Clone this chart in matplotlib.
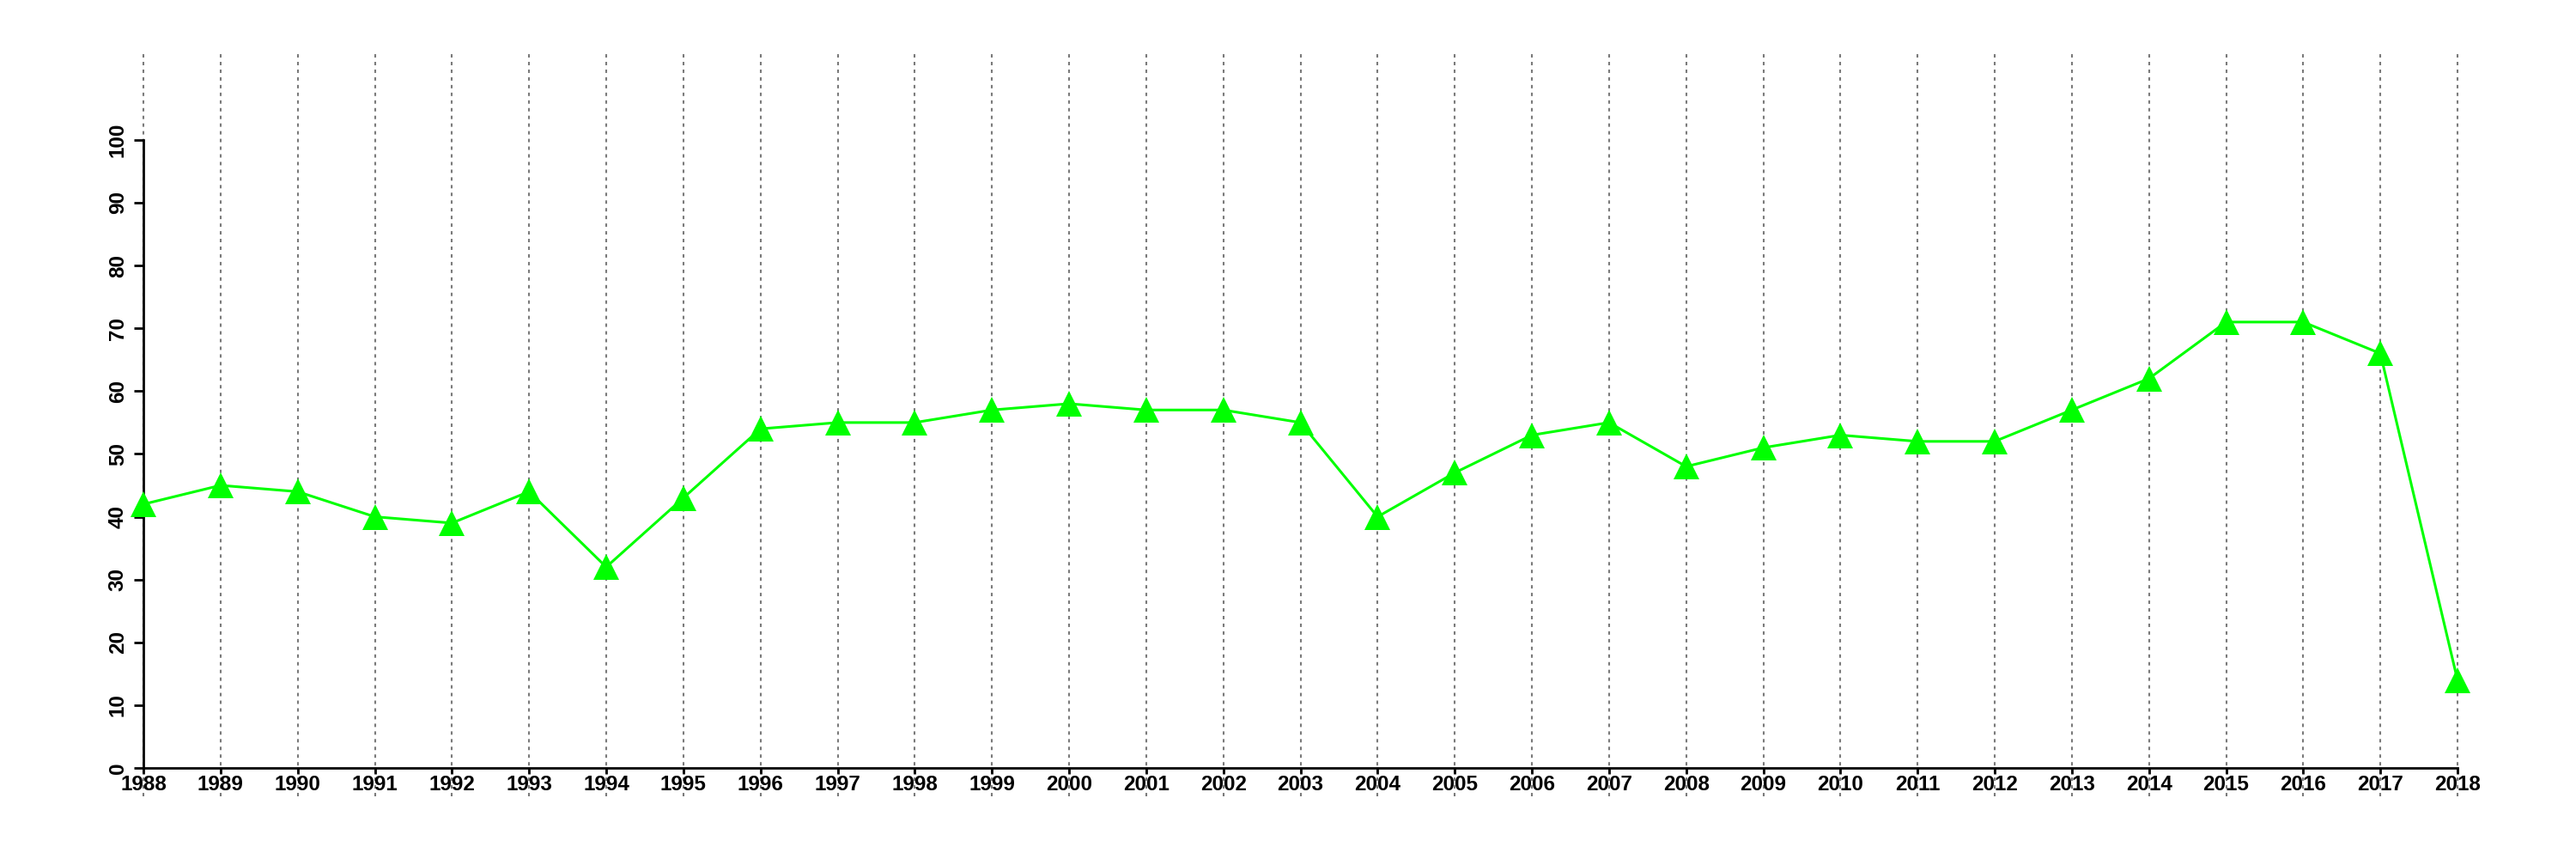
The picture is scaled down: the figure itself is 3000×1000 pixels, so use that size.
import numpy as np
from matplotlib import pyplot as plt

# Data
years = np.arange(1988, 2019)
values = [42, 45, 44, 40, 39, 44, 32, 43, 54, 55, 55, 57, 58, 57, 57, 55,
          40, 47, 53, 55, 48, 51, 53, 52, 52, 57, 62, 71, 71, 66, 14]
y_ticks = list(range(0, 101, 10))

plt.rcParams['font.family'] = ['Liberation Sans', 'DejaVu Sans']
plt.rcParams['font.weight'] = 'bold'

fig = plt.figure(figsize=(30, 10), dpi=100)
ax = fig.add_axes([167 / 3000, 0.073, (2862 - 167) / 3000, 0.868])

# Dotted vertical grid, running past both ends of the axis
ax.vlines(years, -4.5, 114.2, colors='#7a7a7a', linestyles=(0, (1.9, 2.4)),
          linewidth=1.5, zorder=1, clip_on=False)

ax.plot(years, values, color='#00ff00', linewidth=2.2, marker='^',
        markersize=21, markeredgewidth=0, zorder=3, clip_on=False)

ax.set_xlim(1988, 2018)
ax.set_ylim(-4.5, 114.2)

for s in ['top', 'right']:
    ax.spines[s].set_visible(False)
ax.spines['bottom'].set_position(('data', 0))
ax.spines['bottom'].set_bounds(1988, 2018)
ax.spines['left'].set_bounds(0, 100)
ax.spines['left'].set_linewidth(2)
ax.spines['bottom'].set_linewidth(2)

ax.set_xticks(years)
ax.set_xticklabels([str(y) for y in years], fontsize=17.5, fontweight='bold')
ax.set_yticks(y_ticks)
ax.set_yticklabels([str(v) for v in y_ticks], fontsize=17.5, fontweight='bold',
                   rotation=90, va='center')
ax.tick_params(axis='x', length=5, width=2, pad=1)
ax.tick_params(axis='y', length=8, width=2, pad=5)

fig.savefig('out.png', dpi=100)
